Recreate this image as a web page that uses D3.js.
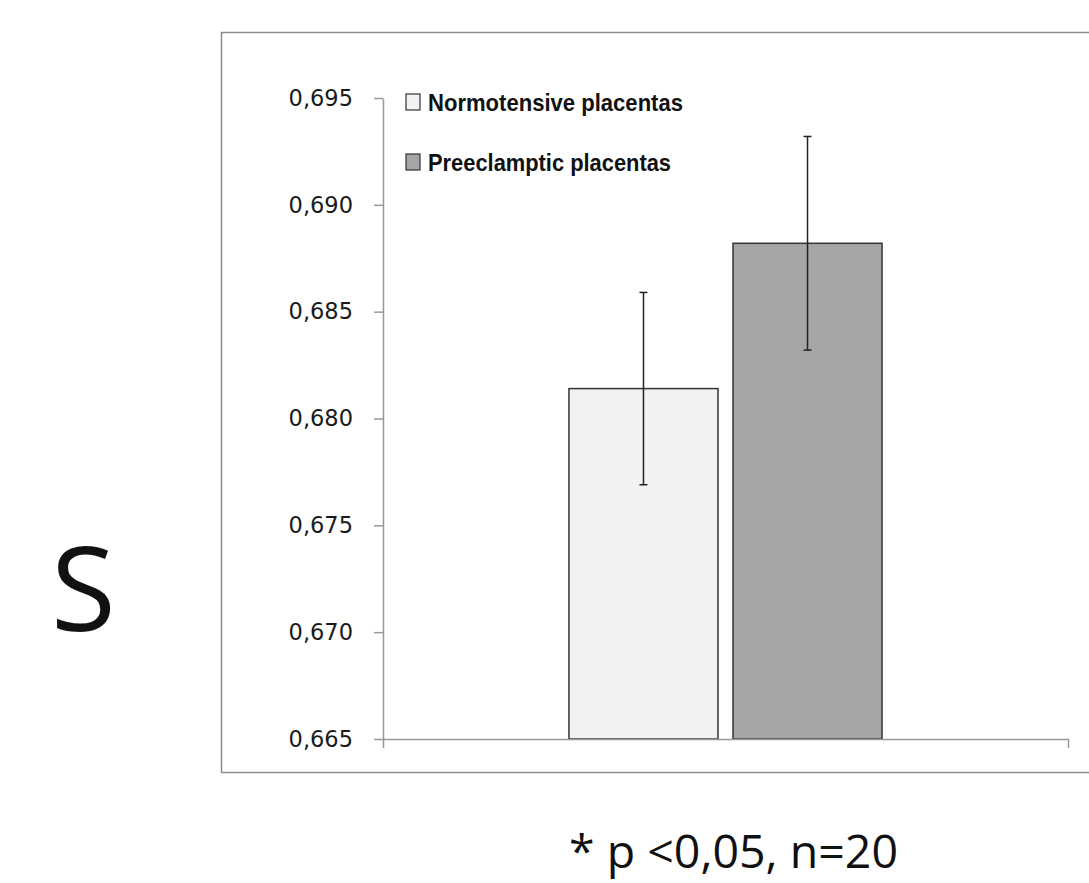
<!DOCTYPE html>
<html>
<head>
<meta charset="utf-8">
<script src="https://cdn.jsdelivr.net/npm/d3@7"></script>
<style>
  body { margin: 0; background: #fff; }
  svg { display: block; }
</style>
</head>
<body>
<div id="chart"></div>
<script>
// values
const categories = ["S"];
const series = ["Normotensive placentas", "Preeclamptic placentas"];
const means = [0.6814, 0.6882];
const errors = [0.0045, 0.0050];
const yTicks = [0.665, 0.670, 0.675, 0.680, 0.685, 0.690, 0.695];
const fills = ["#f2f2f2", "#a6a6a6"];
const legendWidths = [255, 243];

const width = 1089;
const height = 883;

const svg = d3.select("#chart")
  .append("svg")
  .attr("width", width)
  .attr("height", height);

// outer chart frame (runs off the right edge)
svg.append("rect")
  .attr("x", 221.5)
  .attr("y", 32.5)
  .attr("width", 900)
  .attr("height", 740)
  .attr("fill", "none")
  .attr("stroke", "#8c8c8c")
  .attr("stroke-width", 1.5);

const y = d3.scaleLinear()
  .domain([0.665, 0.695])
  .range([739, 98]);

const x0 = d3.scaleBand()
  .domain(categories)
  .range([383, 1068])
  .paddingOuter(0.594);

const x1 = d3.scaleBand()
  .domain(series)
  .range([0, x0.bandwidth()])
  .paddingInner(0.0915);

const locale = d3.formatLocale({ decimal: ",", thousands: ".", grouping: [3], currency: ["", ""] });
const fmt = locale.format(".3f");

// y axis
const yAxis = svg.append("g")
  .attr("transform", "translate(383,0)")
  .call(d3.axisLeft(y).tickValues(yTicks).tickFormat(fmt).tickSize(9).tickSizeOuter(0));
yAxis.select(".domain").attr("stroke", "#999").attr("stroke-width", 1.5);
yAxis.selectAll(".tick line").attr("stroke", "#999").attr("stroke-width", 1.5);
yAxis.selectAll("text")
  .attr("x", -30)
  .attr("fill", "#1a1a1a")
  .style("font-family", "DejaVu Sans")
  .style("font-size", "22.5px");

// bars
const data = series.map((s, i) => ({ s, v: means[i], e: errors[i], fill: fills[i], w: legendWidths[i] }));
const g = svg.append("g").attr("transform", `translate(${x0(categories[0])},0)`);

g.selectAll("rect")
  .data(data)
  .join("rect")
  .attr("x", d => x1(d.s))
  .attr("y", d => y(d.v))
  .attr("width", x1.bandwidth())
  .attr("height", d => y(0.665) - y(d.v))
  .attr("fill", d => d.fill)
  .attr("stroke", "#333")
  .attr("stroke-width", 1.5);

// x axis
const xAxis = svg.append("g")
  .attr("transform", "translate(0,739)")
  .call(d3.axisBottom(x0).tickValues([]).tickSizeOuter(9));
xAxis.select(".domain").attr("stroke", "#999").attr("stroke-width", 1.5);

// error bars
const eb = g.selectAll(".err")
  .data(data)
  .join("g")
  .attr("class", "err")
  .attr("stroke", "#222")
  .attr("stroke-width", 1.5);
eb.append("line")
  .attr("x1", d => x1(d.s) + x1.bandwidth() / 2)
  .attr("x2", d => x1(d.s) + x1.bandwidth() / 2)
  .attr("y1", d => y(d.v + d.e))
  .attr("y2", d => y(d.v - d.e));
[1, -1].forEach(k => {
  eb.append("line")
    .attr("x1", d => x1(d.s) + x1.bandwidth() / 2 - 4)
    .attr("x2", d => x1(d.s) + x1.bandwidth() / 2 + 4)
    .attr("y1", d => y(d.v + k * d.e))
    .attr("y2", d => y(d.v + k * d.e));
});

// legend
const legend = svg.append("g")
  .selectAll("g")
  .data(data)
  .join("g")
  .attr("transform", (d, i) => `translate(406,${94 + i * 60})`);
legend.append("rect")
  .attr("width", 14)
  .attr("height", 16)
  .attr("fill", d => d.fill)
  .attr("stroke", "#333")
  .attr("stroke-width", 1.2);
legend.append("text")
  .attr("x", 22)
  .attr("y", 16.5)
  .attr("fill", "#111")
  .attr("textLength", d => d.w)
  .attr("lengthAdjust", "spacingAndGlyphs")
  .style("font-family", "Liberation Sans")
  .style("font-weight", "bold")
  .style("font-size", "24px")
  .text(d => d.s);

// category label on the left
svg.append("text")
  .attr("x", 51)
  .attr("y", 631)
  .attr("fill", "#111")
  .style("font-family", "Open Sans")
  .style("font-size", "118px")
  .text(categories[0]);

// footnote
svg.append("text")
  .attr("x", 569)
  .attr("y", 868)
  .attr("fill", "#111")
  .style("font-family", "Open Sans")
  .style("font-size", "46.5px")
  .text("* p <0,05, n=20");
</script>
</body>
</html>
